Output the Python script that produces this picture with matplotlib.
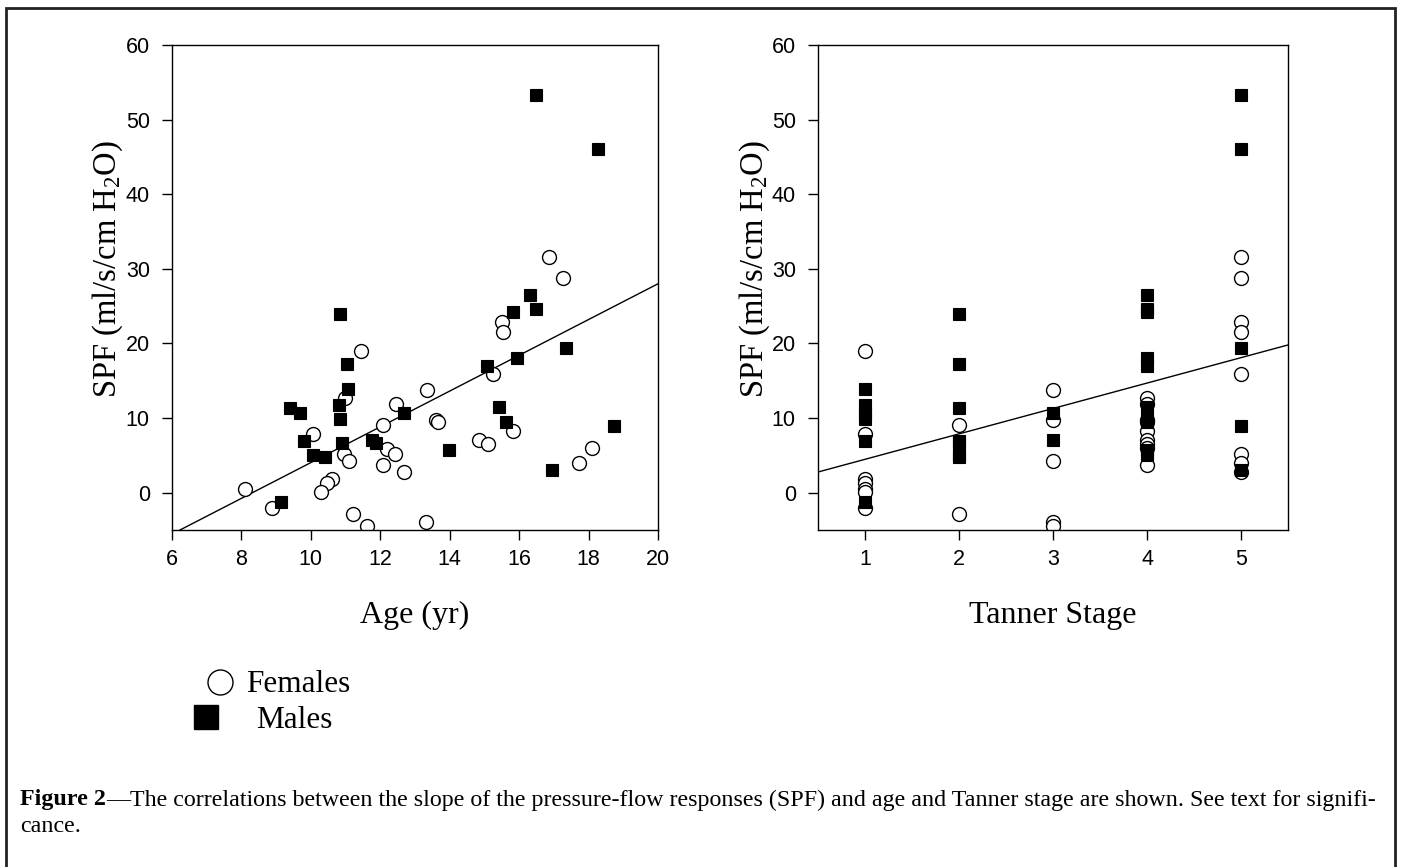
"""
Figure 2: SPF vs age and Tanner stage, females vs males
"""

import matplotlib.pyplot as plt
from matplotlib.lines import Line2D
from matplotlib.patches import Rectangle

plt.rcParams["font.family"] = ["Liberation Sans", "DejaVu Sans"]
plt.rcParams["mathtext.fontset"] = "custom"
plt.rcParams["mathtext.rm"] = "Liberation Serif"
plt.rcParams["mathtext.it"] = "Liberation Serif:italic"

# age panel
fem_age = [16.87, 17.25, 15.52, 15.54, 11.44, 15.25, 13.36, 10.98, 12.44, 13.61,
           13.66, 15.81, 10.05, 12.08, 12.18, 12.41, 14.83, 15.11, 10.96, 11.11,
           12.08, 12.67, 18.09, 17.71, 10.60, 10.46, 10.29, 8.11, 8.88, 11.20,
           11.63, 13.32]
fem_spf = [31.6, 28.8, 22.9, 21.5, 19.0, 15.95, 13.7, 12.7, 11.9, 9.7,
           9.5, 8.3, 7.9, 9.05, 5.8, 5.2, 7.1, 6.55, 5.2, 4.2,
           3.65, 2.8, 6.0, 4.0, 1.9, 1.3, 0.1, 0.5, -2.05, -2.9,
           -4.5, -3.9]
male_age = [16.49, 18.28, 16.31, 16.49, 10.83, 15.82, 17.36, 11.03, 15.06, 15.95,
            11.08, 10.80, 9.41, 9.68, 10.83, 12.69, 15.41, 15.61, 18.74, 9.80,
            10.91, 11.77, 11.88, 13.97, 10.05, 10.42, 16.96, 9.13]
male_spf = [53.3, 46.1, 26.5, 24.6, 23.9, 24.2, 19.4, 17.2, 17.0, 18.1,
            13.9, 11.7, 11.3, 10.65, 9.9, 10.65, 11.45, 9.5, 9.0, 6.9,
            6.6, 7.1, 6.7, 5.7, 5.0, 4.85, 3.0, -1.2]
age_fit = [6.23, 20.0]
age_fit_spf = [-5.0, 28.0]

# tanner panel
fem_tan = [1, 1, 1, 1, 1, 1, 1,
           2, 2,
           3, 3, 3, 3, 3,
           4, 4, 4, 4, 4, 4, 4, 4, 4,
           5, 5, 5, 5, 5, 5, 5, 5]
fem_tan_spf = [19.0, 7.9, 1.9, 1.3, 0.5, 0.1, -2.05,
               9.05, -2.9,
               13.7, 9.7, 4.2, -3.9, -4.5,
               12.7, 11.9, 9.7, 9.5, 8.3, 7.1, 6.55, 6.0, 3.65,
               31.6, 28.8, 22.9, 21.5, 15.95, 5.2, 4.0, 2.8]
male_tan = [1, 1, 1, 1, 1, 1,
            2, 2, 2, 2, 2, 2, 2,
            3, 3,
            4, 4, 4, 4, 4, 4, 4, 4, 4, 4,
            5, 5, 5, 5, 5]
male_tan_spf = [13.9, 11.7, 10.65, 9.9, 6.9, -1.2,
                23.9, 17.2, 11.3, 6.9, 6.6, 5.0, 4.85,
                10.65, 7.1,
                26.5, 24.6, 24.2, 18.1, 17.0, 11.45, 9.9, 9.5, 5.7, 5.0,
                53.3, 46.1, 19.4, 9.0, 3.0]
tan_fit = [0.5, 5.5]
tan_fit_spf = [2.77, 19.8]

W, H = 1401, 867
fig = plt.figure(figsize=(W / 100, H / 100), dpi=100)

# outer frame
fig.patches.append(Rectangle((6 / W, -0.01), 1389 / W, 1.0 - 8 / H + 0.01,
                             transform=fig.transFigure, fill=False,
                             edgecolor="#222222", linewidth=2))

ax1 = fig.add_axes([172 / W, 1 - 530 / H, 486 / W, 485 / H])
ax2 = fig.add_axes([818 / W, 1 - 530 / H, 470 / W, 485 / H])

panels = [
    (ax1, fem_age, fem_spf, male_age, male_spf, age_fit, age_fit_spf, "Age (yr)", 108),
    (ax2, fem_tan, fem_tan_spf, male_tan, male_tan_spf, tan_fit, tan_fit_spf, "Tanner Stage", 755),
]

for ax, fx, fy, mx, my, lx, ly, xlabel, ylab_x in panels:
    ax.plot(lx, ly, color="black", linewidth=1)
    ax.plot(fx, fy, "o", markersize=10, markerfacecolor="white",
            markeredgecolor="black", markeredgewidth=1, linestyle="none")
    ax.plot(mx, my, "s", markersize=9, markerfacecolor="black",
            markeredgecolor="black", markeredgewidth=0.8, linestyle="none")
    ax.set_ylim(-5, 60)
    ax.set_yticks([0, 10, 20, 30, 40, 50, 60])
    ax.tick_params(axis="both", direction="out", length=7, width=1,
                   labelsize=15.5)
    ax.tick_params(axis="y", pad=9)
    ax.tick_params(axis="x", pad=7)
    for sp in ax.spines.values():
        sp.set_linewidth(1)
    ax.set_xlabel(xlabel, family="Liberation Serif", fontsize=23, labelpad=22)
    fig.text(ylab_x / W, 1 - 269 / H, "SPF (ml/s/cm H$_2$O)",
             family="Liberation Serif", fontsize=23.5, rotation=90,
             ha="center", va="center")

ax1.set_xlim(6, 20)
ax1.set_xticks([6, 8, 10, 12, 14, 16, 18, 20])
ax2.set_xlim(0.5, 5.5)
ax2.set_xticks([1, 2, 3, 4, 5])

# legend drawn by hand like the original
fig.add_artist(Line2D([220 / W], [1 - 682 / H], marker="o", markersize=18,
                      markerfacecolor="white", markeredgecolor="black",
                      markeredgewidth=1, transform=fig.transFigure))
fig.add_artist(Line2D([206 / W], [1 - 717 / H], marker="s", markersize=17,
                      markerfacecolor="black", markeredgecolor="black",
                      transform=fig.transFigure))
fig.text(246 / W, 1 - 684 / H, "Females", family="Liberation Serif",
         fontsize=22.5, va="center", ha="left")
fig.text(256 / W, 1 - 721 / H, "Males", family="Liberation Serif",
         fontsize=22.5, va="center", ha="left")

# caption
cap_fs = 17.3
cap_y1 = 1 - 800 / H
cap_y2 = 1 - 826 / H
t = fig.text(20 / W, cap_y1, "Figure 2", family="Liberation Serif",
             fontweight="bold", fontsize=cap_fs, va="center", ha="left")
fig.canvas.draw()
bb = t.get_window_extent()
fig.text(bb.x1 / W, cap_y1,
         "\u2014The correlations between the slope of the pressure-flow responses (SPF) "
         "and age and Tanner stage are shown. See text for signifi-",
         family="Liberation Serif", fontsize=cap_fs, va="center", ha="left")
fig.text(20 / W, cap_y2, "cance.", family="Liberation Serif", fontsize=cap_fs,
         va="center", ha="left")

plt.savefig("out.png", dpi=100)
